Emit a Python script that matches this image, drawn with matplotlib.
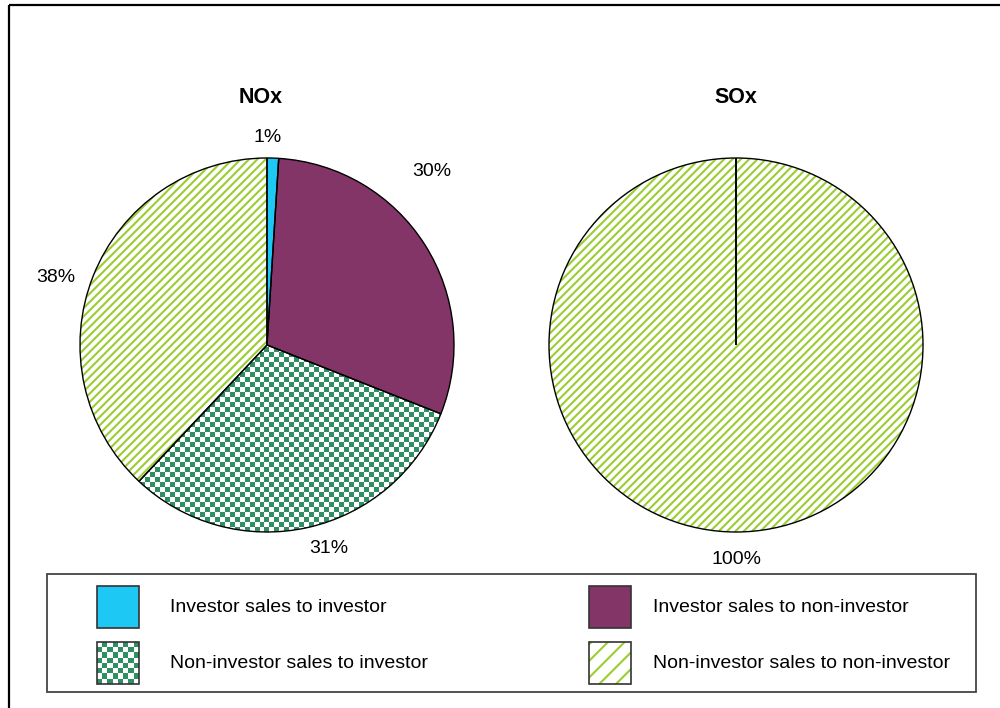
import numpy as np
import matplotlib
matplotlib.use("Agg")
import matplotlib.pyplot as plt
from matplotlib.colors import ListedColormap
from matplotlib.patches import Rectangle

plt.rcParams['font.family'] = ['Liberation Sans', 'DejaVu Sans']
plt.rcParams['hatch.linewidth'] = 1.5

# data
categories = ["Investor sales to investor", "Investor sales to non-investor",
              "Non-investor sales to investor", "Non-investor sales to non-investor"]
nox_share = [1, 30, 31, 38]
sox_share = [0, 0, 0, 100]

# styles per category
face = ['#1ec8f5', '#843567', 'white', 'white']
hatch_col = [None, None, None, '#9acd32']
hatch = [None, None, None, '////']
checker_col = '#2f8f62'

# label positions (pie data units, radius = 1)
nox_label_pos = [(0.005, 1.11), (0.88, 0.93), (0.33, -1.09), (-1.13, 0.36)]
sox_label_pos = [None, None, None, (0.005, -1.145)]

W, H = 1000, 708
fig = plt.figure(figsize=(10, 7.08), dpi=100)

# full-figure overlay in pixel coordinates for frame and legend
ov = fig.add_axes([0, 0, 1, 1])
ov.set_xlim(0, W)
ov.set_ylim(H, 0)
ov.axis('off')
ov.plot([9, W], [5, 5], color='black', lw=1.6, solid_capstyle='butt')
ov.plot([9, 9], [5, H], color='black', lw=1.6, solid_capstyle='butt')


def checker(n):
    i, j = np.indices((n, n))
    return (i + j) % 2


cmap_chk = ListedColormap(['white', checker_col])


def draw_pie(cx, title, title_dx, values, label_pos):
    r = 187
    ax = fig.add_axes([(cx - r) / W, (H - 345 - r) / H, 2 * r / W, 2 * r / H])
    wedges, _ = ax.pie(values, startangle=90, counterclock=False, radius=1,
                       wedgeprops=dict(linewidth=0))
    for k, w in enumerate(wedges):
        w.set_facecolor(face[k])
        if hatch[k]:
            w.set_hatch(hatch[k])
            w.set_edgecolor(hatch_col[k])
        else:
            w.set_edgecolor(face[k])
        if k == 2 and values[k] > 0:
            im = ax.imshow(checker(75), cmap=cmap_chk, extent=(-1, 1, -1, 1),
                           interpolation='nearest', zorder=w.get_zorder() + 0.1)
            im.set_clip_path(w)
    # outlines
    outl, _ = ax.pie(values, startangle=90, counterclock=False, radius=1,
                     wedgeprops=dict(fill=False, edgecolor='black', linewidth=1.0))
    for w in outl:
        w.set_zorder(5)
    ax.set_xlim(-1, 1)
    ax.set_ylim(-1, 1)
    ax.axis('off')
    total = sum(values)
    for v, pos in zip(values, label_pos):
        if v > 0 and pos is not None:
            ax.text(pos[0], pos[1], f"{round(100 * v / total)}%", ha='center', va='center',
                    fontsize=14, clip_on=False)
    ax.text(title_dx, 1.325, title, ha='center', va='center', fontsize=15.5,
            fontweight='bold', clip_on=False)


draw_pie(267, "NOx", -0.035, nox_share, nox_label_pos)
draw_pie(736, "SOx", 0.0, sox_share, sox_label_pos)

# legend box
ov.add_patch(Rectangle((47, 574), 929, 118, fill=False, edgecolor='#444444', lw=1.3))
slots = [(97, 586), (589, 586), (97, 642), (589, 642)]
text_x = [170, 653, 170, 653]
for k, (x, y) in enumerate(slots):
    if k == 2:
        ov.imshow(checker(8), cmap=cmap_chk, extent=(x, x + 42, y + 42, y),
                  interpolation='nearest', zorder=2)
    else:
        ov.add_patch(Rectangle((x, y), 42, 42, facecolor=face[k],
                               hatch='//' if hatch[k] else None,
                               edgecolor=hatch_col[k] or face[k], lw=0, zorder=2))
    ov.add_patch(Rectangle((x, y), 42, 42, fill=False, edgecolor='#333333', lw=1.2, zorder=3))
    ov.text(text_x[k], y + 21, categories[k], ha='left', va='center', fontsize=14)
ov.set_xlim(0, W)
ov.set_ylim(H, 0)

fig.savefig('out.png', dpi=100)
